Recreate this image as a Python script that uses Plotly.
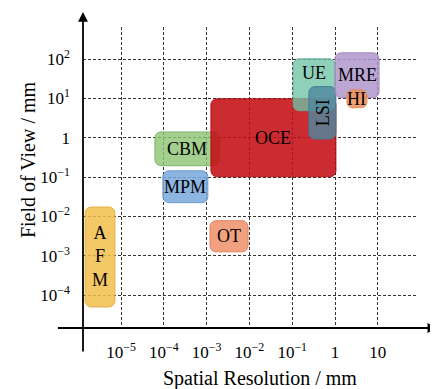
import numpy as np
import plotly.graph_objects as go

# ---- data (mm) ----
methods = ["AFM", "CBM", "MPM", "OT", "OCE", "UE", "LSI", "MRE", "HI"]
res_min = [1.45e-6, 6.2e-5, 9.5e-5, 1.2e-3, 1.26e-3, 0.105, 0.245, 1.0, 1.9]
res_max = [7.2e-6, 2.0e-3, 1.07e-3, 9.3e-3, 1.05, 1.0, 1.05, 10.7, 5.6]
fov_min = [5.0e-5, 0.195, 0.0224, 1.26e-3, 0.102, 4.9, 0.93, 10.5, 5.75]
fov_max = [1.74e-2, 1.41, 0.145, 7.8e-3, 9.8, 102.0, 20.0, 145.0, 16.6]

x_tickvals = [1e-5, 1e-4, 1e-3, 1e-2, 1e-1, 1, 10]
x_ticktext = ["10<sup>−5</sup>", "10<sup>−4</sup>", "10<sup>−3</sup>", "10<sup>−2</sup>",
              "10<sup>−1</sup>", "1", "10"]
y_tickvals = [1e-4, 1e-3, 1e-2, 1e-1, 1, 10, 100]
y_ticktext = ["10<sup>−4</sup>", "10<sup>−3</sup>", "10<sup>−2</sup>", "10<sup>−1</sup>",
              "1", "10<sup>1</sup>", "10<sup>2</sup>"]

# ---- styles ----
fills = {
    "AFM": "rgba(243,190,75,0.85)",
    "CBM": "rgba(140,195,115,0.80)",
    "MPM": "rgba(120,168,220,0.85)",
    "OT":  "rgba(238,145,105,0.85)",
    "OCE": "rgba(195,15,20,0.88)",
    "UE":  "rgba(110,195,165,0.78)",
    "LSI": "rgba(80,135,160,0.82)",
    "MRE": "rgba(175,150,205,0.85)",
    "HI":  "rgba(240,150,95,0.90)",
}
lines = {
    "AFM": "rgba(225,170,60,0.9)",
    "CBM": "rgba(120,175,95,0.9)",
    "MPM": "rgba(100,150,205,0.9)",
    "OT":  "rgba(225,125,85,0.9)",
    "OCE": "rgba(175,10,15,0.9)",
    "UE":  "rgba(95,175,145,0.9)",
    "LSI": "rgba(70,120,145,0.9)",
    "MRE": "rgba(160,135,190,0.9)",
    "HI":  "rgba(225,130,80,0.9)",
}
label_font = dict(family="Liberation Serif", size=18, color="black")
tick_font = dict(family="Liberation Serif", size=17, color="black")
title_font = dict(family="Liberation Serif", size=20, color="black")

XR = [-5.888, 1.939]
YR = [-4.836, 2.817]


def rounded_rect(x0, x1, y0, y1, rx=0.14, ry=0.15, n=8):
    lx0, lx1, ly0, ly1 = np.log10([x0, x1, y0, y1])
    xs, ys = [], []
    corners = [
        (lx1 - rx, ly1 - ry, 0.0),
        (lx0 + rx, ly1 - ry, 90.0),
        (lx0 + rx, ly0 + ry, 180.0),
        (lx1 - rx, ly0 + ry, 270.0),
    ]
    for cx, cy, a0 in corners:
        t = np.radians(np.linspace(a0, a0 + 90, n))
        xs.extend(cx + rx * np.cos(t))
        ys.extend(cy + ry * np.sin(t))
    xs.append(xs[0])
    ys.append(ys[0])
    return 10 ** np.array(xs), 10 ** np.array(ys)


fig = go.Figure()
for i, m in enumerate(methods):
    xs, ys = rounded_rect(res_min[i], res_max[i], fov_min[i], fov_max[i])
    fig.add_trace(go.Scatter(
        x=xs, y=ys, mode="lines", fill="toself",
        fillcolor=fills[m], line=dict(color=lines[m], width=1),
        hoverinfo="skip", showlegend=False,
    ))

annotations = []
for i, m in enumerate(methods):
    cx = (np.log10(res_min[i]) + np.log10(res_max[i])) / 2
    cy = (np.log10(fov_min[i]) + np.log10(fov_max[i])) / 2
    text = m
    angle = 0
    yshift = 0
    if m == "AFM":
        text = "A<br>F<br>M"
    if m == "LSI":
        angle = -90
    if m == "UE":
        yshift = 12
    annotations.append(dict(
        x=cx, y=cy, xref="x", yref="y", text=text, showarrow=False,
        textangle=angle, yshift=yshift, font=label_font,
    ))

# axis arrows
annotations.append(dict(
    x=0, y=1.05, xref="paper", yref="paper", ax=0, ay=341, axref="pixel", ayref="pixel",
    text="", showarrow=True, arrowhead=2, arrowsize=1.1, arrowwidth=1.8, arrowcolor="black",
))
annotations.append(dict(
    x=1.058, y=0, xref="paper", yref="paper", ax=-381, ay=0, axref="pixel", ayref="pixel",
    text="", showarrow=True, arrowhead=2, arrowsize=1.1, arrowwidth=1.8, arrowcolor="black",
))
# axis titles
annotations.append(dict(
    x=0.528, y=-0.169, xref="paper", yref="paper", text="Spatial Resolution / mm",
    showarrow=False, xanchor="center", yanchor="middle", font=title_font,
))
annotations.append(dict(
    x=-0.164, y=0.558, xref="paper", yref="paper", text="Field of View / mm",
    showarrow=False, textangle=-90, xanchor="center", yanchor="middle", font=title_font,
))

# the page body adds an 8px offset; margins compensate for it
fig.update_layout(
    width=438, height=389,
    margin=dict(l=75, r=28, t=19, b=69, autoexpand=False),
    paper_bgcolor="white", plot_bgcolor="white",
    annotations=annotations,
    font=dict(family="Liberation Serif", color="black"),
)
fig.update_xaxes(
    type="log", range=XR, tickvals=x_tickvals, ticktext=x_ticktext, automargin=False,
    showgrid=True, gridcolor="#333", griddash="3px,2px", gridwidth=1,
    zeroline=False, showline=False, ticks="", ticklabelstandoff=12, tickfont=tick_font,
)
fig.update_yaxes(
    type="log", range=YR, tickvals=y_tickvals, ticktext=y_ticktext, automargin=False,
    showgrid=True, gridcolor="#333", griddash="3px,2px", gridwidth=1,
    zeroline=False, showline=False, ticks="", ticklabelstandoff=12, tickfont=tick_font,
)

fig.write_html("out.html")
